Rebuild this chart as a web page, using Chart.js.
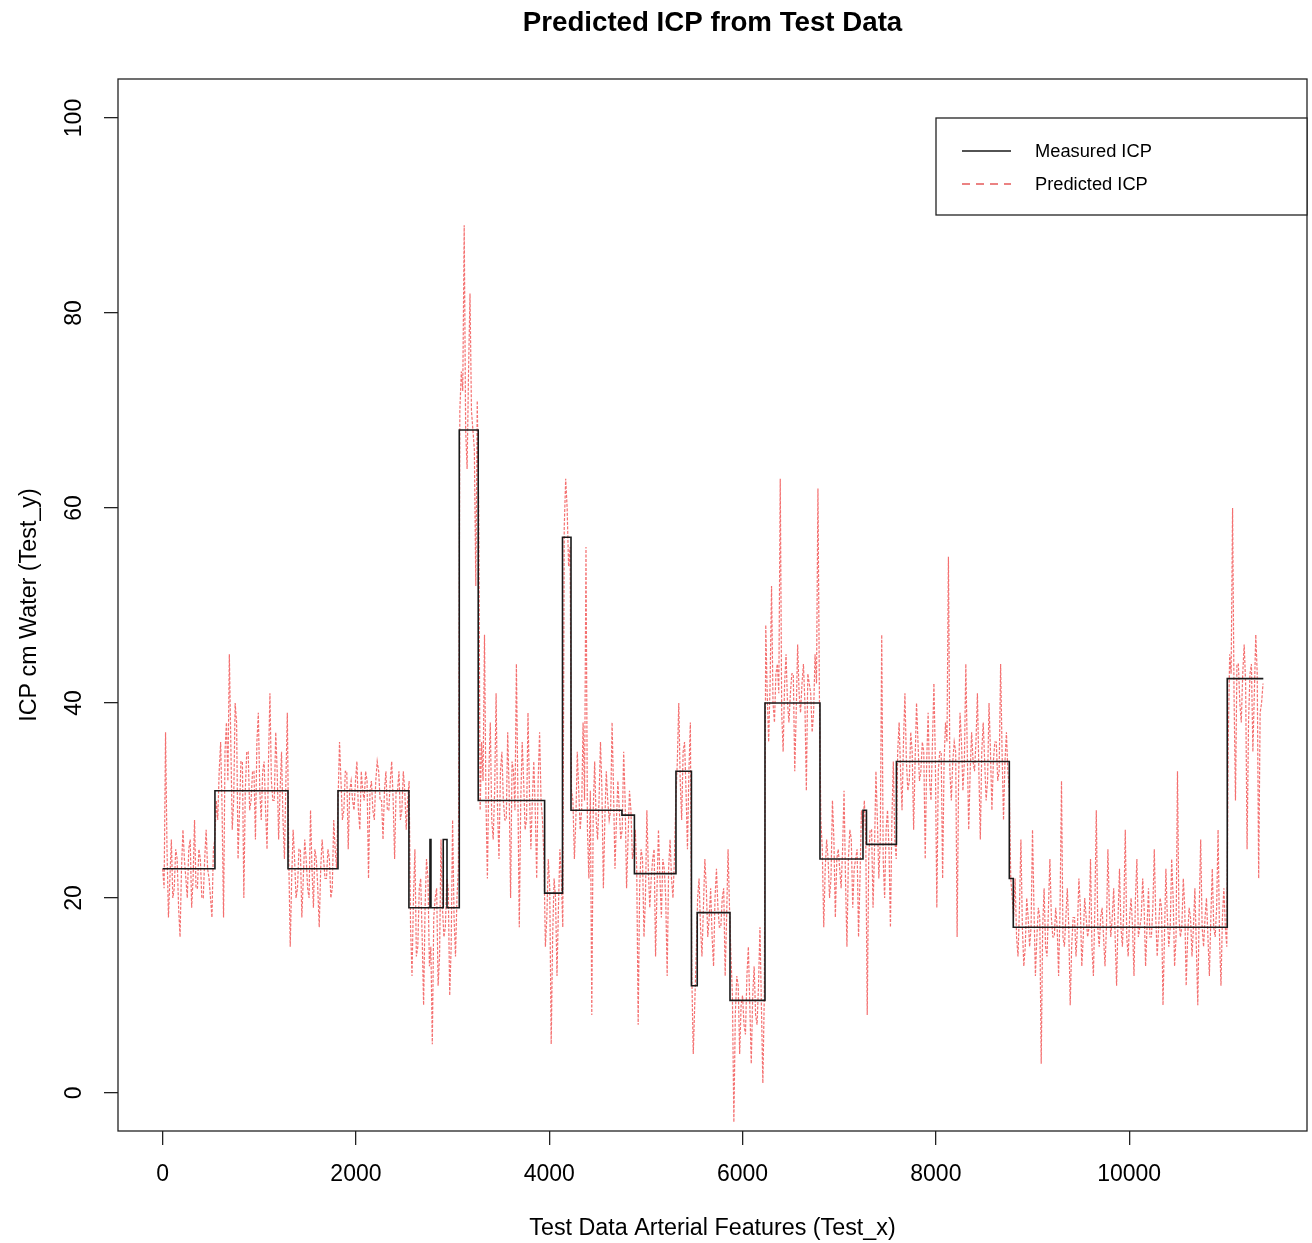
<!DOCTYPE html>
<html>
<head>
<meta charset="utf-8">
<title>Predicted ICP from Test Data</title>
<script src="https://cdn.jsdelivr.net/npm/chart.js@4.4.1/dist/chart.umd.min.js"></script>
<style>
  html, body { margin: 0; padding: 0; background: #fff; }
  #wrap { width: 1312px; height: 1243px; }
</style>
</head>
<body>
<div id="wrap"><canvas id="icpChart" width="1312" height="1243"></canvas></div>
<script>
// measured ICP: start of each step and its level
const measuredX = [0, 541, 1297, 1814, 2548, 2766, 2776, 2903, 2942, 3069, 3265, 3952, 4137, 4225, 4752,
  4881, 5311, 5471, 5531, 5870, 6232, 6801, 7246, 7282, 7592, 8760, 8801, 11015, 11388];
const measuredY = [23, 31, 23, 31, 19, 26, 19, 26, 19, 68, 30, 20.5, 57, 29, 28.5,
  22.5, 33, 11, 18.5, 9.5, 40, 24, 29, 25.5, 34, 22, 17, 42.5, 42.5];

// predicted ICP, read every 30 samples (x = 0, 30, 60 ...)
const predStart = 0;
const predStep = 30;
const predictedIcp = [
  23, 37, 18, 26, 21, 24, 16, 27, 22, 25, 19, 28, 21, 24, 20, 27, 22, 18, 26,
  28, 36, 18, 38, 45, 27, 40, 24, 34, 20, 35, 29, 33, 26, 39, 28, 34, 25, 41, 30, 37, 26, 35, 24, 39,
  15, 27, 20, 25, 18, 26, 21, 29, 19, 24, 17, 26, 22, 25, 20, 28, 23,
  36, 28, 33, 25, 32, 29, 34, 27, 31, 33, 22, 32, 28, 34, 30, 26, 33, 29, 34, 24, 31, 28, 33, 27, 32,
  12, 25, 15, 22, 9, 24, 13, 5, 20, 11, 26, 16, 22, 10, 28, 14, 23,
  74, 89, 64, 82, 68, 52, 60,
  36, 47, 22, 38, 26, 41, 24, 35, 28, 37, 20, 33, 44, 17, 36, 27, 39, 25, 34, 22, 37, 28,
  15, 24, 5, 22, 12, 25, 17,
  63, 54,
  31, 24, 35, 27, 38, 56, 22, 8, 34, 26, 36, 21, 33, 28, 38, 23, 32, 26,
  35, 21, 31, 24,
  27, 7, 25, 16, 29, 19, 24, 14, 27, 18, 23, 12, 26, 20, 30,
  40, 28, 36, 25, 38,
  4, 14,
  22, 14, 24, 16, 21, 13, 23, 17, 20, 12, 25,
  14, -3, 12, 4, 10, 6, 15, 3, 13, 7, 17, 1,
  48, 36, 52, 38, 44, 63, 35, 45, 38, 43, 33, 46, 39, 44, 31, 42, 37, 45, 62,
  28, 17, 26, 20, 30, 18, 25, 21, 31, 15, 27, 19, 24, 16, 29,
  30, 8, 27, 19, 33, 22, 47, 20, 29, 17, 34, 24,
  38, 29, 41, 31, 37, 27, 40, 32, 36, 24, 39, 30, 42, 19, 35, 22, 38, 55, 30, 36,
  16, 39, 31, 44, 27, 37, 33, 41, 26, 38, 30, 40, 29, 36, 32, 44, 28, 37, 31,
  20,
  22, 14, 26, 13, 20, 15, 27, 12, 19, 3, 21, 14, 24, 16, 19, 12, 32, 15, 21, 9,
  18, 14, 22, 13, 20, 16, 24, 12, 29, 15, 19, 13, 25, 16, 21, 11, 23, 15, 27, 14,
  20, 12, 24, 17, 22, 13, 21, 16, 25, 14, 20, 9, 23, 15, 24, 13, 33, 16, 22, 11,
  19, 14, 21, 9, 26, 15, 20, 12, 23, 16, 27, 11, 21, 15,
  45, 60, 30, 44, 38, 46, 25, 43, 35, 47, 22, 40
];
// readings half way between those (x = 15, 45, 75 ...)
const predictedIcpHalf = [
  21, 25, 22, 20, 25, 19, 23, 24, 20, 26, 22, 21, 25, 20, 24, 23, 20, 25,
  30, 33, 29, 35, 32, 36, 30, 38, 29, 34, 31, 35, 30, 33, 36, 31, 33, 29, 34, 32, 30, 33, 31, 28, 32,
  24, 22, 24, 21, 25, 22, 24, 20, 23, 25, 21, 23, 24, 22, 24, 21, 25,
  30, 32, 29, 33, 31, 30, 32, 29, 33, 30, 32, 31, 29, 32, 33, 30, 31, 29, 32, 30, 31, 33, 29, 31, 30,
  17, 20, 14, 21, 16, 19, 22, 15, 18, 21, 14, 19, 17, 21, 15, 18, 20,
  70, 72, 68, 74, 70, 66, 71,
  29, 32, 30, 33, 28, 31, 29, 33, 30, 28, 31, 34, 29, 31, 30, 32, 28, 31, 30, 29, 32, 30, 24,
  18, 21, 16, 20, 19, 22,
  58, 60, 56,
  30, 28, 31, 29, 30, 27, 31, 29, 28, 30, 31, 28, 30, 29, 31, 28, 29,
  27, 30, 26, 29, 25,
  23, 21, 24, 20, 23, 22, 25, 21, 22, 24, 20, 23, 22, 24,
  34, 32, 35, 31, 33,
  12, 9,
  20, 17, 19, 21, 18, 16, 20, 19, 17, 21, 18, 19,
  10, 8, 11, 9, 7, 12, 9, 10, 8, 11, 9, 10,
  41, 42, 40, 43, 41, 39, 42, 40, 41, 43, 39, 41, 42, 40, 43, 41, 39, 42, 41,
  25, 23, 24, 22, 26, 24, 23, 25, 22, 24, 26, 23, 25, 22, 27,
  26, 24, 27, 25, 28, 26, 24, 27, 25, 28, 26,
  35, 33, 36, 34, 32, 35, 34, 36, 33, 35, 34, 32, 36, 34, 33, 35, 34, 36, 33, 34,
  35, 32, 36, 34, 35, 33, 34, 36, 33, 35, 34, 32, 35, 34, 36, 33, 35, 34, 33,
  22,
  18, 16, 19, 17, 15, 18, 17, 19, 16, 18, 17, 15, 19, 18, 16, 17, 19, 16, 18, 17,
  15, 18, 17, 19, 16, 18, 17, 15, 19, 17, 18, 16, 17, 19, 18, 16, 18, 17, 19, 16,
  18, 17, 20, 16, 18, 19, 17, 16, 19, 18, 17, 19, 16, 18, 17, 20, 16, 18, 17, 19,
  16, 18, 17, 15, 19, 17, 18, 16, 18, 17, 19, 16, 18, 17,
  36, 43, 41, 44, 40, 43, 42, 38, 44, 41, 43, 39, 42
];

const xTicks = [0, 2000, 4000, 6000, 8000, 10000];
const yTicks = [0, 20, 40, 60, 80, 100];

const FONT = '"Liberation Sans", Arial, Helvetica, sans-serif';
const RED = "rgba(238, 25, 25, 0.62)";

const measuredPoints = measuredX.map((x, i) => ({ x, y: measuredY[i] }));
const predictedPoints = [];
predictedIcp.forEach((y, i) => {
  predictedPoints.push({ x: predStart + i * predStep, y });
  if (i < predictedIcpHalf.length) {
    predictedPoints.push({ x: predStart + i * predStep + predStep / 2, y: predictedIcpHalf[i] });
  }
});

// box round the plot, title and the R-style legend
const framePlugin = {
  id: "frame",
  afterDraw(chart) {
    const { ctx, chartArea: a } = chart;
    ctx.save();
    ctx.strokeStyle = "#222";
    ctx.lineWidth = 1.3;
    ctx.strokeRect(a.left, a.top, a.right - a.left, a.bottom - a.top);

    ctx.fillStyle = "#000";
    ctx.font = `bold 27.7px ${FONT}`;
    ctx.textAlign = "center";
    ctx.textBaseline = "middle";
    ctx.fillText("Predicted ICP from Test Data", (a.left + a.right) / 2, 23);

    // legend
    const lx = a.right - 371, ly = a.top + 39, lw = 371, lh = 97;
    ctx.fillStyle = "#fff";
    ctx.fillRect(lx, ly, lw, lh);
    ctx.strokeRect(lx, ly, lw, lh);
    ctx.font = `18.3px ${FONT}`;
    ctx.textAlign = "left";
    chart.data.datasets.forEach((ds, i) => {
      const y = ly + 33 + i * 33;
      ctx.beginPath();
      ctx.strokeStyle = i === 0 ? "#1a1a1a" : "rgba(225, 60, 60, 0.85)";
      ctx.lineWidth = 1.6;
      ctx.setLineDash(i === 0 ? [] : [8, 6]);
      ctx.moveTo(lx + 26, y);
      ctx.lineTo(lx + 75, y);
      ctx.stroke();
      ctx.setLineDash([]);
      ctx.fillStyle = "#000";
      ctx.fillText(ds.label, lx + 99, y + 1);
    });
    ctx.restore();
  }
};

new Chart(document.getElementById("icpChart"), {
  type: "line",
  data: {
    datasets: [
      {
        label: "Measured ICP",
        data: measuredPoints,
        borderColor: "#1a1a1a",
        borderWidth: 1.6,
        stepped: true,
        pointRadius: 0,
        fill: false
      },
      {
        label: "Predicted ICP",
        data: predictedPoints,
        borderColor: RED,
        borderWidth: 1.2,
        borderDash: [3, 1.5],
        pointRadius: 0,
        tension: 0,
        fill: false
      }
    ]
  },
  options: {
    responsive: false,
    devicePixelRatio: 1,
    animation: false,
    layout: { padding: { top: 79, right: 5, left: 0, bottom: 0 } },
    plugins: {
      legend: { display: false },
      tooltip: { enabled: false },
      title: { display: false }
    },
    scales: {
      x: {
        type: "linear",
        min: -462,
        max: 11840,
        afterBuildTicks(scale) { scale.ticks = xTicks.map(v => ({ value: v })); },
        afterFit(scale) { scale.height = 112; },
        border: { display: false },
        grid: { drawOnChartArea: false, drawTicks: true, tickLength: 14, color: "#222", lineWidth: 1.3 },
        ticks: {
          color: "#000",
          font: { family: FONT, size: 23 },
          padding: 16,
          maxRotation: 0,
          autoSkip: false,
          callback: v => String(v)
        },
        title: {
          display: true,
          text: "Test Data Arterial Features (Test_x)",
          color: "#000",
          font: { family: FONT, size: 23.3 },
          padding: { top: 0, bottom: 0 }
        }
      },
      y: {
        type: "linear",
        min: -3.9,
        max: 104,
        afterBuildTicks(scale) { scale.ticks = yTicks.map(v => ({ value: v })); },
        afterFit(scale) { scale.width = 118; },
        border: { display: false },
        grid: { drawOnChartArea: false, drawTicks: true, tickLength: 14, color: "#222", lineWidth: 1.3 },
        ticks: {
          color: "#000",
          font: { family: FONT, size: 23 },
          padding: 10,
          minRotation: 90,
          maxRotation: 90,
          crossAlign: "center",
          autoSkip: false,
          callback: v => String(v)
        },
        title: {
          display: true,
          text: "ICP cm Water (Test_y)",
          color: "#000",
          font: { family: FONT, size: 23.3 },
          padding: { top: 16, bottom: 0 }
        }
      }
    }
  },
  plugins: [framePlugin]
});
</script>
</body>
</html>
